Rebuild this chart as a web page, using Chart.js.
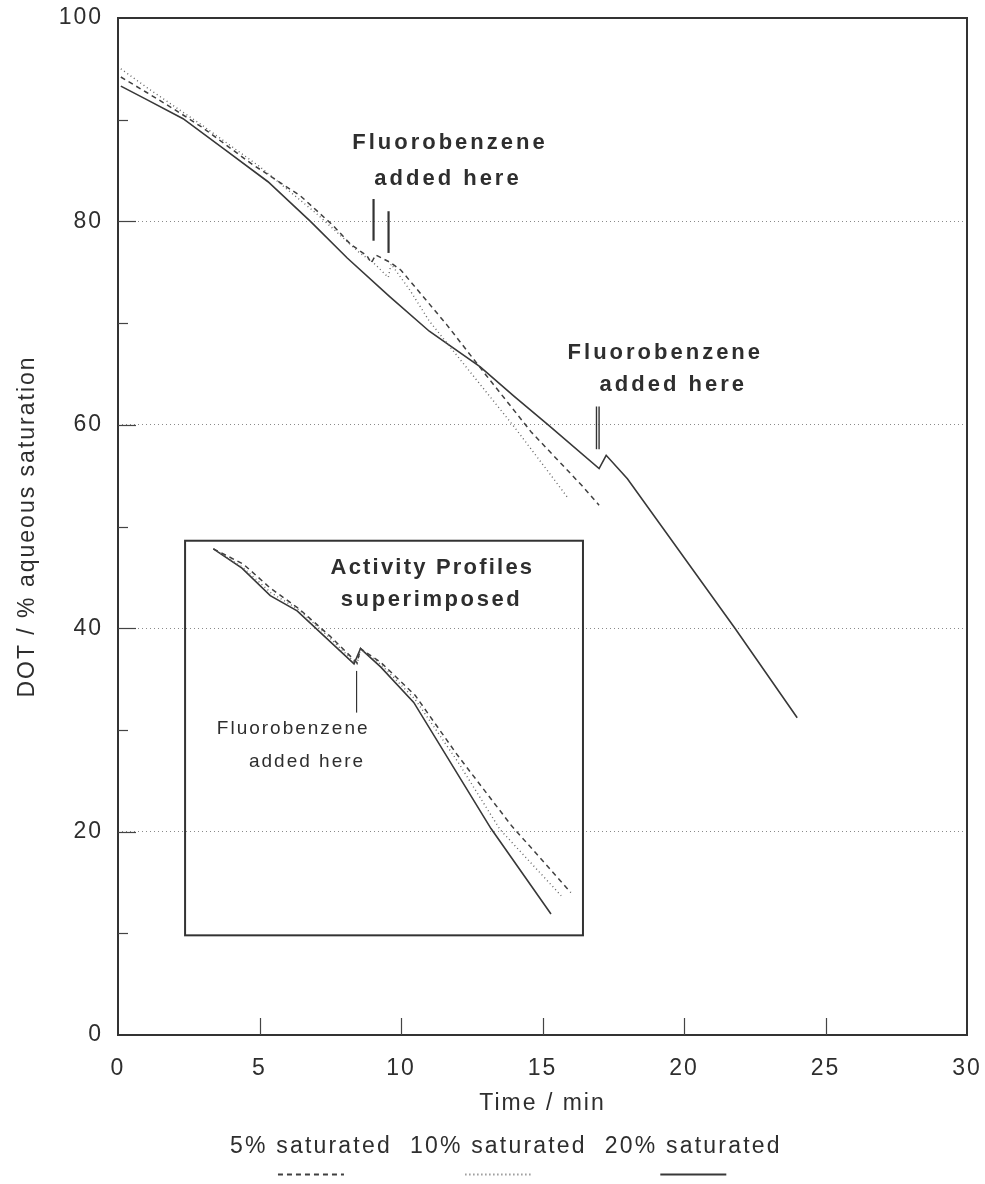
<!DOCTYPE html>
<html>
<head>
<meta charset="utf-8">
<script src="https://cdn.jsdelivr.net/npm/chart.js@4.4.1/dist/chart.umd.min.js"></script>
<style>
  html, body { margin: 0; padding: 0; background: #fff; }
</style>
</head>
<body>
<canvas id="doChart" width="985" height="1184"></canvas>
<script>
// --- Données (temps en min, DOT en %) ---
const time5  = [0.1, 1.0, 2.0, 3.0, 4.7, 6.45, 7.6, 8.2, 8.8, 8.95, 9.1, 9.6, 10.0, 11.6, 13.0, 14.6, 16.4, 17.0];
const dot5   = [94.2, 92.7, 91.0, 89.2, 85.7, 82.5, 79.6, 77.8, 76.6, 75.9, 76.7, 76.0, 75.2, 69.9, 64.9, 59.3, 54.0, 52.1];

const time10 = [0.1, 1.0, 2.0, 3.0, 5.0, 7.0, 8.5, 9.0, 9.55, 9.65, 10.3, 11.0, 12.5, 14.0, 15.2, 15.9];
const dot10  = [95.0, 93.2, 91.3, 89.4, 85.4, 80.8, 77.0, 76.0, 74.5, 75.8, 73.3, 70.2, 65.0, 59.8, 55.4, 52.8];

const time20 = [0.1, 1.0, 2.3, 3.8, 5.3, 6.8, 8.1, 9.6, 11.0, 12.8, 14.0, 15.2, 17.0, 17.25, 18.0, 21.8, 24.0];
const dot20  = [93.3, 92.0, 90.1, 87.0, 83.9, 80.0, 76.4, 72.6, 69.2, 65.7, 62.8, 60.0, 55.7, 57.0, 54.7, 40.0, 31.2];

// encart "Activity Profiles superimposed" (mêmes axes)
const insetTime5  = [3.37, 4.43, 5.4, 6.4, 7.5, 8.3, 8.45, 8.57, 9.3, 10.5, 12.0, 13.9, 16.0];
const insetDot5   = [47.8, 46.3, 43.9, 41.9, 39.2, 37.0, 36.6, 38.0, 36.6, 33.4, 27.5, 20.6, 14.0];
const insetTime10 = [3.37, 4.4, 5.4, 6.4, 7.5, 8.3, 8.45, 8.57, 9.3, 10.5, 12.0, 13.5, 15.66];
const insetDot10  = [47.8, 46.0, 43.5, 41.8, 39.0, 36.8, 36.5, 38.0, 36.4, 33.0, 26.9, 20.2, 13.7];
const insetTime20 = [3.37, 4.38, 5.38, 6.33, 8.34, 8.57, 9.28, 10.45, 13.18, 15.3];
const insetDot20  = [47.8, 45.9, 43.2, 41.7, 36.5, 38.0, 36.2, 32.7, 20.3, 11.9];

const seriesLabels = ['5% saturated', '10% saturated', '20% saturated'];
const xTicks = [0, 5, 10, 15, 20, 25, 30];
const yTicks = [0, 20, 40, 60, 80, 100];

// annotations (coordonnées en unités des axes)
const insetBox = { tMin: 2.37, tMax: 16.43, vMin: 9.8, vMax: 48.6 };
const markers = [
  { t: 9.03, top: 82.2, bottom: 78.1, double: false },
  { t: 9.56, top: 81.0, bottom: 76.9, double: false },
  { t: 16.95, top: 61.8, bottom: 57.6, double: true },
  { t: 8.43, top: 35.8, bottom: 31.7, thin: true }
];
const notes = [
  { text: 'Fluorobenzene', t: 11.73, v: 87.7, bold: true, spacing: 3 },
  { text: 'added here', t: 11.66, v: 84.2, bold: true, spacing: 3 },
  { text: 'Fluorobenzene', t: 19.34, v: 67.1, bold: true, spacing: 3 },
  { text: 'added here', t: 19.62, v: 63.9, bold: true, spacing: 3 },
  { text: 'Activity Profiles', t: 11.11, v: 45.9, bold: true, spacing: 2.2 },
  { text: 'superimposed', t: 11.08, v: 42.8, bold: true, spacing: 2.6 },
  { text: 'Fluorobenzene', t: 6.19, v: 30.1, bold: false, size: 19, spacing: 2 },
  { text: 'added here', t: 6.68, v: 26.9, bold: false, size: 19, spacing: 2 }
];

const FONT = "'Liberation Sans', Arial, sans-serif";
const INK = '#2e2e2e';

const pts = (ts, vs) => ts.map((t, i) => ({ x: t, y: vs[i] }));

const styles = [
  { borderColor: '#404040', borderWidth: 1.5, borderDash: [5, 4] },
  { borderColor: '#666', borderWidth: 1.4, borderDash: [1, 3] },
  { borderColor: '#383838', borderWidth: 1.6, borderDash: [] }
];

function ds(label, data, st) {
  return Object.assign({ label: label, data: data, pointRadius: 0, tension: 0, fill: false }, st);
}

const extras = {
  id: 'extras',
  beforeDraw(chart) { chart.ctx.letterSpacing = '2px'; },
  afterDraw(chart) {
    const { ctx, chartArea: a, scales: { x, y } } = chart;
    const line = (x1, y1, x2, y2) => { ctx.beginPath(); ctx.moveTo(x1, y1); ctx.lineTo(x2, y2); ctx.stroke(); };
    ctx.save();
    ctx.setLineDash([]);

    // cadre
    ctx.strokeStyle = '#333'; ctx.lineWidth = 2;
    ctx.strokeRect(a.left, a.top, a.right - a.left, a.bottom - a.top);

    // graduations intérieures
    ctx.lineWidth = 1.2; ctx.strokeStyle = '#444';
    for (let v = 10; v < 100; v += 10) {
      const py = Math.round(y.getPixelForValue(v)) + 0.5;
      line(a.left, py, a.left + (v % 20 === 0 ? 18 : 10), py);
    }
    xTicks.forEach(t => {
      if (t <= 0 || t >= 30) return;
      const px = Math.round(x.getPixelForValue(t)) + 0.5;
      line(px, a.bottom, px, a.bottom - 17);
    });

    // encart
    ctx.lineWidth = 2; ctx.strokeStyle = '#333';
    const bx1 = x.getPixelForValue(insetBox.tMin), bx2 = x.getPixelForValue(insetBox.tMax);
    const by1 = y.getPixelForValue(insetBox.vMax), by2 = y.getPixelForValue(insetBox.vMin);
    ctx.strokeRect(bx1, by1, bx2 - bx1, by2 - by1);

    // repères d'ajout
    markers.forEach(m => {
      const px = x.getPixelForValue(m.t);
      const y1 = y.getPixelForValue(m.top), y2 = y.getPixelForValue(m.bottom);
      ctx.strokeStyle = '#333';
      if (m.double) {
        ctx.lineWidth = 1.4; line(px - 1.2, y1, px - 1.2, y2); line(px + 1.4, y1, px + 1.4, y2);
      } else {
        ctx.lineWidth = m.thin ? 1.2 : 2.2; line(px, y1, px, y2);
      }
    });

    // textes
    ctx.fillStyle = INK; ctx.textAlign = 'center'; ctx.textBaseline = 'middle';
    notes.forEach(n => {
      ctx.letterSpacing = n.spacing + 'px';
      ctx.font = (n.bold ? 'bold ' : '') + (n.size || 22) + 'px ' + FONT;
      ctx.fillText(n.text, x.getPixelForValue(n.t), y.getPixelForValue(n.v));
    });

    // légende : texte puis échantillon de trait dessous
    ctx.letterSpacing = '2.2px';
    ctx.font = '23px ' + FONT;
    ctx.textAlign = 'left';
    let lx = 230;
    chart.data.datasets.slice(0, 3).forEach(d => {
      const w = ctx.measureText(d.label).width;
      ctx.fillText(d.label, lx, 1147);
      const cx = lx + w / 2;
      ctx.strokeStyle = d.borderColor; ctx.lineWidth = d.borderWidth + 0.4;
      ctx.setLineDash(d.borderDash);
      line(cx - 33, 1174.5, cx + 33, 1174.5);
      ctx.setLineDash([]);
      lx += w + 18;
    });
    ctx.restore();
  }
};

new Chart(document.getElementById('doChart').getContext('2d'), {
  type: 'line',
  data: {
    datasets: [
      ds(seriesLabels[0], pts(time5, dot5), styles[0]),
      ds(seriesLabels[1], pts(time10, dot10), styles[1]),
      ds(seriesLabels[2], pts(time20, dot20), styles[2]),
      ds('inset 5%', pts(insetTime5, insetDot5), styles[0]),
      ds('inset 10%', pts(insetTime10, insetDot10), styles[1]),
      ds('inset 20%', pts(insetTime20, insetDot20), styles[2])
    ]
  },
  options: {
    responsive: false,
    animation: false,
    layout: { padding: { top: 18, right: 18, bottom: 54, left: 0 } },
    plugins: { legend: { display: false }, tooltip: { enabled: false } },
    scales: {
      x: {
        type: 'linear', min: 0, max: 30,
        afterBuildTicks: s => { s.ticks = xTicks.map(v => ({ value: v })); },
        afterFit: s => { s.height = 95; s.paddingLeft = 0; s.paddingRight = 0; },
        ticks: { padding: 12, color: INK, font: { family: FONT, size: 23 } },
        grid: { display: false },
        border: { display: false },
        title: { display: true, text: 'Time / min', color: INK, font: { family: FONT, size: 23, lineHeight: 1.2 }, padding: { top: 0, bottom: 13 } }
      },
      y: {
        min: 0, max: 100,
        afterBuildTicks: s => { s.ticks = yTicks.map(v => ({ value: v })); },
        afterFit: s => { s.width = 118; s.paddingTop = 0; s.paddingBottom = 0; },
        ticks: { padding: 15, color: INK, font: { family: FONT, size: 23 } },
        grid: {
          drawTicks: false, lineWidth: 1,
          color: c => (c.tick && c.tick.value > 0 && c.tick.value < 100) ? '#8a8a8a' : 'rgba(0,0,0,0)'
        },
        border: { display: false, dash: [1, 3] },
        title: { display: true, text: 'DOT / % aqueous saturation', color: INK, font: { family: FONT, size: 23, lineHeight: 1.2 }, padding: { top: 14, bottom: 0 } }
      }
    }
  },
  plugins: [extras]
});
</script>
</body>
</html>
